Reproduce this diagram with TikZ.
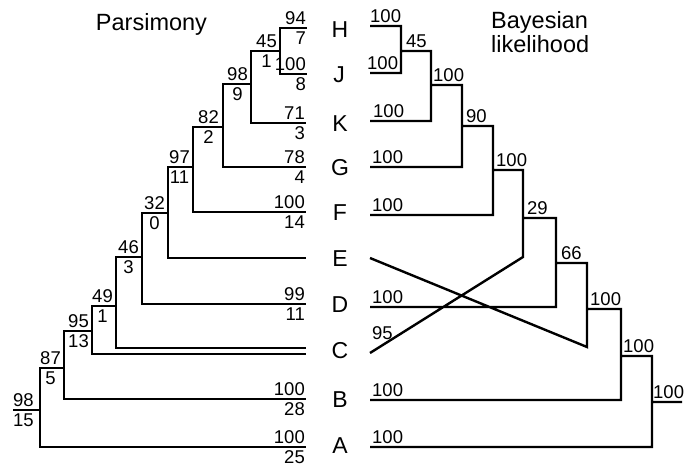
\documentclass[tikz,border=0pt]{standalone}
\usepackage{fontspec}
\setmainfont{Liberation Sans}
\usetikzlibrary{positioning}
\newcommand{\numfont}{\fontsize{18.5}{20.5}\selectfont}
\newcommand{\taxfont}{\fontsize{23}{24}\selectfont}
\tikzset{
  branch/.style={line width=2.4pt},
  num/.style={font=\numfont, inner sep=0pt},
  ilab/.style={num, align=center},
  tlab/.style={num, align=right},
  taxon/.style={font=\taxfont, inner sep=0pt},
  title/.style={font=\fontsize{23.5}{24}\selectfont, inner sep=0pt},
}

\begin{document}
\begin{tikzpicture}[x=1pt, y=-1pt]
  \fill[white] (0,0) rectangle (693,465);
  \useasboundingbox (0,0) rectangle (693,465);

  % titles
  \node[title, anchor=base]      (pars) at (151.5,31) {Parsimony};
  \node[title, anchor=base west] (bay)  at (491,29)   {Bayesian};
  \node[title, anchor=base west] (lik)  at (491,53)   {likelihood};

  % taxa
  \node[taxon] (H) at (340,30)  {H};
  \node[taxon] (J) at (339,75)  {J};
  \node[taxon] (K) at (340,124) {K};
  \node[taxon] (G) at (340,168) {G};
  \node[taxon] (F) at (340,213) {F};
  \node[taxon] (E) at (340,259) {E};
  \node[taxon] (D) at (340,305) {D};
  \node[taxon] (C) at (340,351) {C};
  \node[taxon] (B) at (340,400) {B};
  \node[taxon] (A) at (340,446) {A};

  % parsimony tree
  \coordinate (tH)  at (307,28);
  \coordinate (tJ)  at (307,74);
  \coordinate (tK)  at (306,123);
  \coordinate (tG)  at (306,167);
  \coordinate (tF)  at (306,212);
  \coordinate (tE)  at (306,258);
  \coordinate (tD)  at (306,304);
  \coordinate (tC1) at (306,348);
  \coordinate (tC2) at (306,354);
  \coordinate (tB)  at (306,399);
  \coordinate (tA)  at (306,447);
  \coordinate (pHJ)   at (280,51);
  \coordinate (p98)   at (251,84);
  \coordinate (p82)   at (223,127);
  \coordinate (p97)   at (193,167);
  \coordinate (p32)   at (168,213);
  \coordinate (p46)   at (142,257);
  \coordinate (p49)   at (116,306);
  \coordinate (p95)   at (92,331);
  \coordinate (p87)   at (64,368);
  \coordinate (pRoot) at (40,410);
  \coordinate (pStub) at (13,410);

  \draw[branch] (pHJ) |- (tH)  (pHJ) |- (tJ)
                (p98) |- (pHJ) (p98) |- (tK)
                (p82) |- (p98) (p82) |- (tG)
                (p97) |- (p82) (p97) |- (tF)
                (p32) |- (p97) (p32) |- (tE)
                (p46) |- (p32) (p46) |- (tD)
                (p49) |- (p46) (p49) |- (tC1)
                (p95) |- (p49) (p95) |- (tC2)
                (p87) |- (p95) (p87) |- (tB)
                (pRoot) |- (p87) (pRoot) |- (tA)
                (pStub) -- (pRoot);

  \node[ilab, left=3pt of pHJ] (lHJ) {45\\1};
  \node[ilab, left=3pt of p98] (l98) {98\\9};
  \node[ilab, left=4pt of p82] (l82) {82\\2};
  \node[ilab, left=3pt of p97] (l97) {97\\11};
  \node[ilab, left=3pt of p32] (l32) {32\\0};
  \node[ilab, left=3pt of p46] (l46) {46\\3};
  \node[ilab, left=3pt of p49] (l49) {49\\1};
  \node[ilab, left=3pt of p95] (l95) {95\\13};
  \node[ilab, left=3pt of p87] (l87) {87\\5};
  \node[ilab, right=0pt of pStub] (lRoot) {98\\15};

  \node[tlab, left=1pt of tH] (lH) {94\\7};
  \node[tlab, left=1pt of tJ] (lJ) {100\\8};
  \node[tlab, left=1pt of tK] (lK) {71\\3};
  \node[tlab, left=1pt of tG] (lG) {78\\4};
  \node[tlab, left=1pt of tF] (lF) {100\\14};
  \node[tlab, left=1pt of tD] (lD) {99\\11};
  \node[tlab, left=1pt of tB] (lB) {100\\28};
  \node[tlab, left=1pt of tA] (lA) {100\\25};

  % bayesian tree
  \coordinate (sH) at (370,26);
  \coordinate (sJ) at (370,73);
  \coordinate (sK) at (370,121);
  \coordinate (sG) at (370,167);
  \coordinate (sF) at (370,215);
  \coordinate (sE) at (370,258);
  \coordinate (sD) at (370,307);
  \coordinate (sC) at (370,353);
  \coordinate (sB) at (370,400);
  \coordinate (sA) at (370,447);
  \coordinate (qHJ)  at (401,51);
  \coordinate (q100a) at (431,85);
  \coordinate (q90)  at (462,126);
  \coordinate (q100b) at (493,170);
  \coordinate (q29)  at (523,218);
  \coordinate (cC)   at (523,257);
  \coordinate (q66)  at (556,263);
  \coordinate (q100c) at (587,309);
  \coordinate (cE)   at (587,347);
  \coordinate (q100d) at (621,356);
  \coordinate (q100e) at (652,402);
  \coordinate (qStub) at (682,402);

  \draw[branch] (qHJ) |- (sH)  (qHJ) |- (sJ)
                (q100a) |- (qHJ) (q100a) |- (sK)
                (q90) |- (q100a) (q90) |- (sG)
                (q100b) |- (q90) (q100b) |- (sF)
                (q29) |- (q100b) (q29) -- (cC) -- (sC)
                (q66) |- (q29) (q66) |- (sD)
                (q100c) |- (q66) (q100c) -- (cE) -- (sE)
                (q100d) |- (q100c) (q100d) |- (sB)
                (q100e) |- (q100d) (q100e) |- (sA)
                (q100e) -- (qStub);

  \node[num, above right=3pt and 5pt of qHJ]   (mHJ)   {45};
  \node[num, above right=3pt and 2pt of q100a] (m100a) {100};
  \node[num, above right=3pt and 4pt of q90]   (m90)   {90};
  \node[num, above right=3pt and 3pt of q100b] (m100b) {100};
  \node[num, above right=3pt and 4pt of q29]   (m29)   {29};
  \node[num, above right=3pt and 5pt of q66]   (m66)   {66};
  \node[num, above right=3pt and 3pt of q100c] (m100c) {100};
  \node[num, above right=3pt and 2pt of q100d] (m100d) {100};
  \node[num, above right=3pt and 1pt of q100e] (m100e) {100};

  \node[num, above right=3pt and 0pt of sH] (mH) {100};
  \node[num, above right=3pt and -3pt of sJ] (mJ) {100};
  \node[num, above right=3pt and 3pt of sK] (mK) {100};
  \node[num, above right=3pt and 2pt of sG] (mG) {100};
  \node[num, above right=3pt and 2pt of sF] (mF) {100};
  \node[num, above right=3pt and 2pt of sD] (mD) {100};
  \node[num, above right=13pt and 2pt of sC] (mC) {95};
  \node[num, above right=3pt and 2pt of sB] (mB) {100};
  \node[num, above right=3pt and 2pt of sA] (mA) {100};
\end{tikzpicture}
\end{document}
